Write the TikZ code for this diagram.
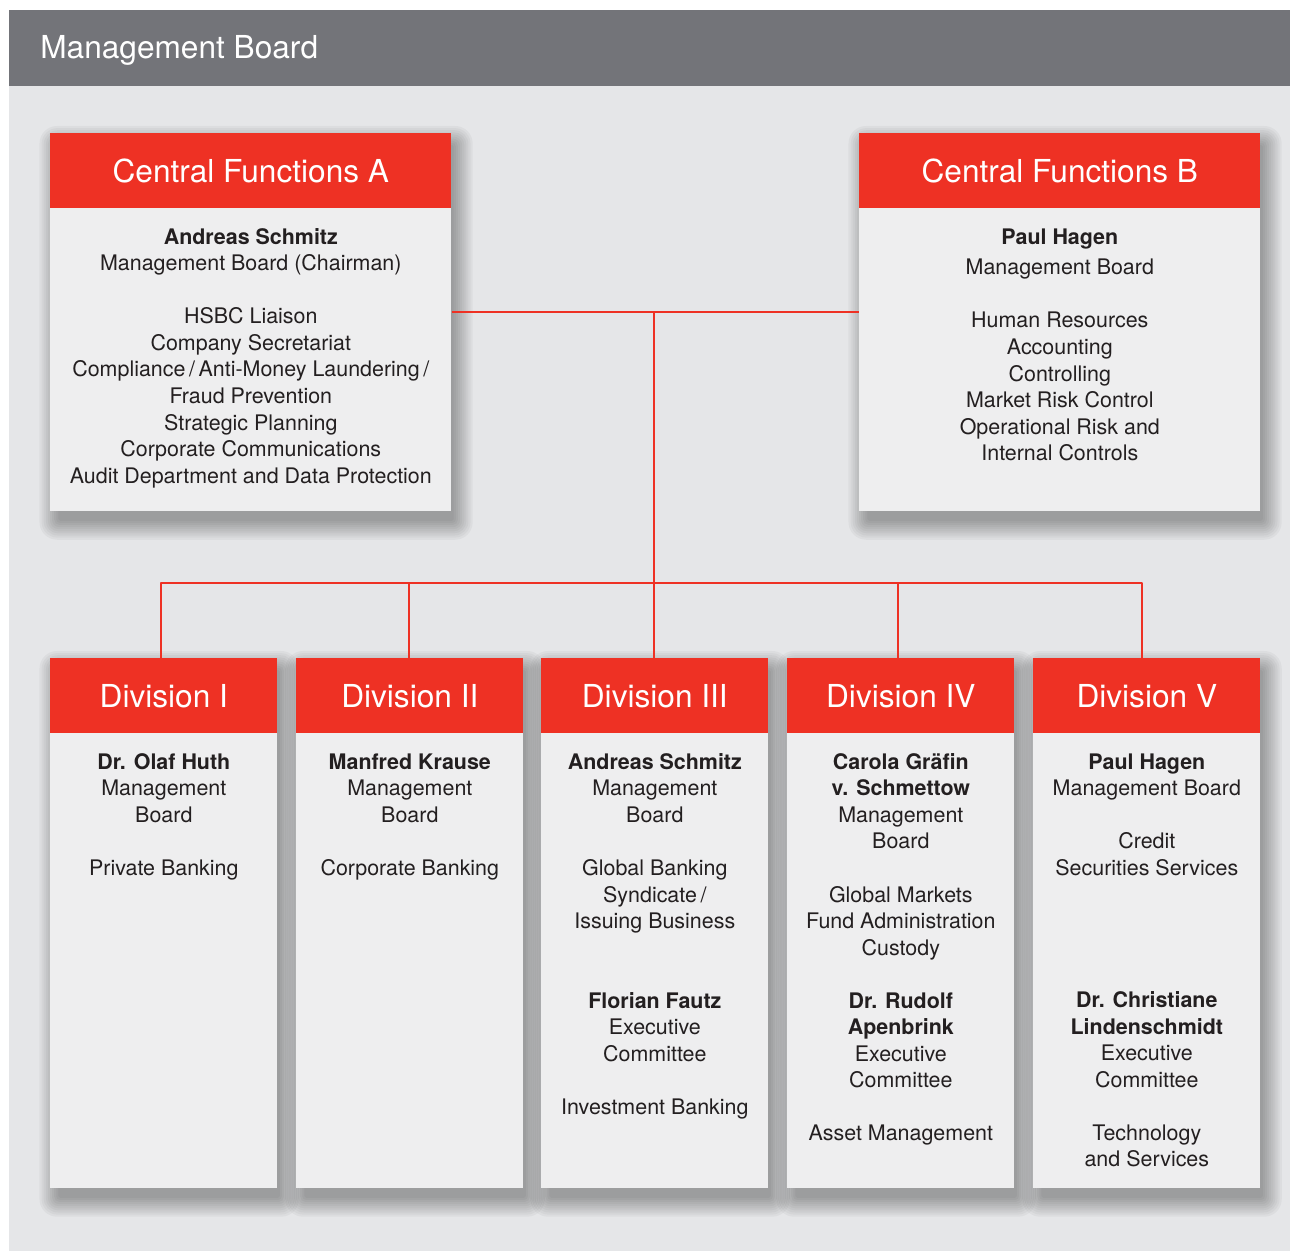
\documentclass[tikz,border=0pt]{standalone}
\usepackage{fontspec}
\setmainfont{TeX Gyre Heros}
\definecolor{boardred}{HTML}{EE3124}
\definecolor{boardgrey}{HTML}{737479}
\definecolor{pagegrey}{HTML}{E5E6E8}
\definecolor{cardgrey}{HTML}{EEEEEF}
\definecolor{inkgrey}{HTML}{231F20}
\pgfdeclarelayer{back}
\pgfdeclarelayer{shade}
\pgfsetlayers{back,shade,main}
\begin{document}
\begin{tikzpicture}[x=0.02cm,y=-0.02cm,line join=round]
	\tikzset{card/.style={fill=cardgrey,anchor=north west,inner sep=0pt},
		wide card/.style={card,minimum width=8.02cm,minimum height=7.56cm},
		narrow card/.style={card,minimum width=4.54cm,minimum height=10.6cm},
		head/.style={fill=boardred,text=white,anchor=north west,inner sep=0pt,minimum height=1.5cm,
			font=\fontsize{18pt}{20pt}\selectfont},
		cardtext/.style={anchor=north,inner sep=0pt,align=center,text=inkgrey,
			font=\fontsize{12.2pt}{15.1pt}\selectfont},
		link/.style={draw=boardred,line width=1.4pt}}
	\useasboundingbox (0,0) rectangle (1290,1251);
	\begin{pgfonlayer}{back}
		\fill[pagegrey] (9,10) rectangle (1290,1251);
	\end{pgfonlayer}
	\fill[boardgrey] (9,10) rectangle (1290,86);
	\node[anchor=west,inner sep=0pt,text=white,font=\fontsize{18pt}{20pt}\selectfont] (title) at (40,50) {Management Board};
	% central functions
	\node[wide card] (cfa) at (50,133) {};
	\node[head,minimum width=8.02cm] (cfa-head) at (50,133) {Central Functions A};
	\node[cardtext] (cfa-text) at ([yshift=-11pt]cfa-head.south) {\textbf{Andreas Schmitz}\\
		Management Board (Chairman)\\[15.1pt]
		HSBC Liaison\\Company Secretariat\\Compliance\,/\,Anti-Money Laundering\,/\\Fraud Prevention\\
		Strategic Planning\\Corporate Communications\\Audit Department and Data Protection};
	\node[wide card] (cfb) at (859,133) {};
	\node[head,minimum width=8.02cm] (cfb-head) at (859,133) {Central Functions B};
	\node[cardtext] (cfb-text) at ([yshift=-11pt]cfb-head.south) {\textbf{Paul Hagen}\\[2pt]
		Management Board\\[15.6pt]
		Human Resources\\Accounting\\Controlling\\Market Risk Control\\
		Operational Risk and\\Internal Controls};
	% divisions
	\foreach \i/\x/\numeral in {1/50/I,2/296/II,3/541/III,4/787/IV,5/1033/V}{
		\node[narrow card] (div\i) at (\x,658) {};
		\node[head,minimum width=4.54cm] (head\i) at (\x,658) {Division \numeral};
	}
	\node[cardtext] (text1) at ([yshift=-11pt]head1.south) {\textbf{Dr. Olaf Huth}\\
		Management\\Board\\[15.1pt]Private Banking};
	\node[cardtext] (text2) at ([yshift=-11pt]head2.south) {\textbf{Manfred Krause}\\
		Management\\Board\\[15.1pt]Corporate Banking};
	\node[cardtext] (text3) at ([yshift=-11pt]head3.south) {\textbf{Andreas Schmitz}\\
		Management\\Board\\[15.1pt]Global Banking\\Syndicate\,/\\Issuing Business\\[30.2pt]
		\textbf{Florian Fautz}\\Executive\\Committee\\[15.1pt]Investment Banking};
	\node[cardtext] (text4) at ([yshift=-11pt]head4.south) {\textbf{Carola Gräfin}\\
		\textbf{v. Schmettow}\\Management\\Board\\[15.1pt]Global Markets\\Fund Administration\\Custody\\[15.1pt]
		\textbf{Dr. Rudolf}\\\textbf{Apenbrink}\\Executive\\Committee\\[15.1pt]Asset Management};
	\node[cardtext] (text5) at ([yshift=-11pt]head5.south) {\textbf{Paul Hagen}\\
		Management Board\\[15.1pt]Credit\\Securities Services\\[60.4pt]
		\textbf{Dr. Christiane}\\\textbf{Lindenschmidt}\\Executive\\Committee\\[15.1pt]Technology\\and Services};
	% soft shadows under the cards
	\begin{pgfonlayer}{shade}
		\foreach \c in {cfa,cfb,div1,div2,div3,div4,div5}
			\foreach \s in {1,...,10}
				\fill[black,opacity=0.035,rounded corners=\s pt]
					([xshift=6pt-\s*1.2pt,yshift=-4pt-\s*1.2pt]\c.south west)
					rectangle ([xshift=\s*1.2pt,yshift=-8pt+\s*1.2pt]\c.north east);
	\end{pgfonlayer}
	% connectors
	\coordinate (hub) at (654,312);
	\coordinate (tap1) at (161,583);
	\coordinate (tap2) at (409,583);
	\coordinate (tap4) at (898,583);
	\coordinate (tap5) at (1142,583);
	\draw[link] (cfa.east |- hub) -- (cfb.west |- hub);
	\draw[link] (hub) -- (hub |- div3.north);
	\draw[link] (tap1 |- div1.north) -- (tap1) -- (tap5) -- (tap5 |- div5.north);
	\draw[link] (tap2) -- (tap2 |- div2.north);
	\draw[link] (tap4) -- (tap4 |- div4.north);
\end{tikzpicture}
\end{document}
